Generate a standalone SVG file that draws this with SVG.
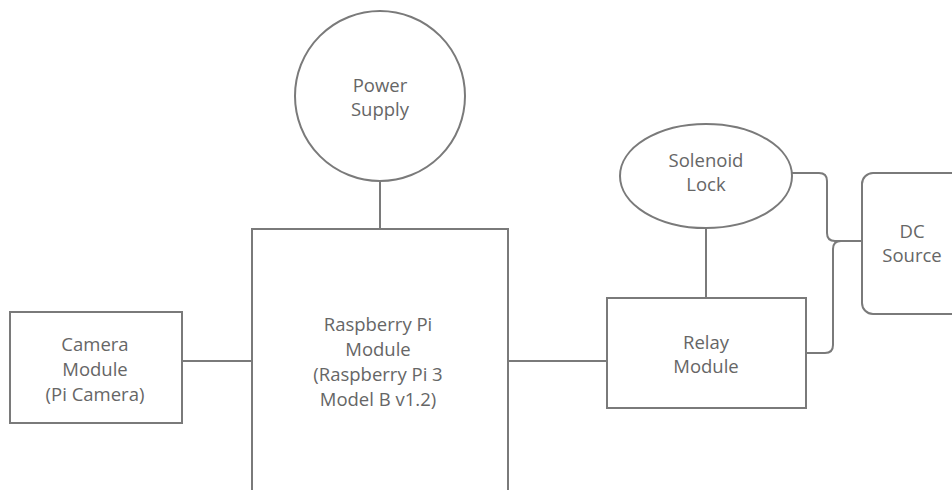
<svg xmlns="http://www.w3.org/2000/svg" width="952" height="490" viewBox="0 0 952 490">
<style>
.s{fill:#fff;stroke:#7a7a7a;stroke-width:2}
.c{fill:none;stroke:#7a7a7a;stroke-width:2}
text{font-family:"Open Sans","Noto Sans","DejaVu Sans",sans-serif;font-size:18.5px;fill:#666;text-anchor:middle}
</style>
<rect width="952" height="490" fill="#fff"/>
<g id="connectors">
<path class="c" d="M380 181V229"/>
<path class="c" d="M706 228V298"/>
<path class="c" d="M182 361H252"/>
<path class="c" d="M508 361H607"/>
<path class="c" d="M790 173H819Q827 173 827 181V233Q827 241 835 241H862"/>
<path class="c" d="M806 353H825Q833 353 833 345V249Q833 241 841 241"/>
</g>
<g id="power-supply">
<circle class="s" cx="380" cy="96" r="85"/>
<text x="380" y="92">Power</text>
<text x="380" y="116">Supply</text>
</g>
<g id="raspberry-pi">
<rect class="s" x="252" y="229" width="256" height="280"/>
<text x="378" y="331">Raspberry Pi</text>
<text x="378" y="356">Module</text>
<text x="378" y="381">(Raspberry Pi 3</text>
<text x="378" y="406">Model B v1.2)</text>
</g>
<g id="camera-module">
<rect class="s" x="10" y="312" width="172" height="111"/>
<text x="95" y="351">Camera</text>
<text x="95" y="376">Module</text>
<text x="95" y="401">(Pi Camera)</text>
</g>
<g id="solenoid-lock">
<ellipse class="s" cx="706" cy="176" rx="86" ry="52"/>
<text x="706" y="167">Solenoid</text>
<text x="706" y="191">Lock</text>
</g>
<g id="relay-module">
<rect class="s" x="607" y="298" width="199" height="110"/>
<text x="706" y="349">Relay</text>
<text x="706" y="373">Module</text>
</g>
<g id="dc-source">
<rect class="s" x="862" y="173" width="100" height="141" rx="11"/>
<text x="912" y="238">DC</text>
<text x="912" y="262">Source</text>
</g>
</svg>
